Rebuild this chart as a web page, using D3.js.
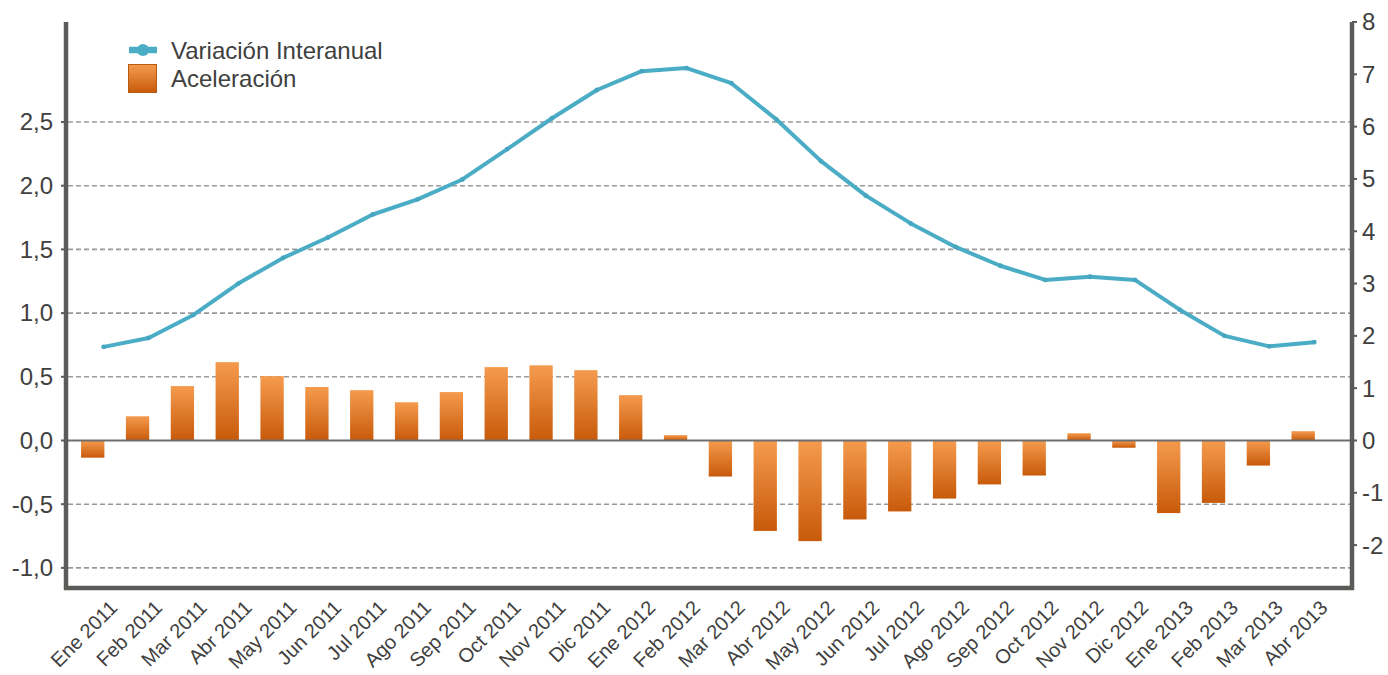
<!DOCTYPE html>
<html>
<head>
<meta charset="utf-8">
<script src="https://cdn.jsdelivr.net/npm/d3@7"></script>
<style>
  html, body { margin: 0; padding: 0; background: #ffffff; }
  svg { display: block; }
  text { font-family: "Liberation Sans", Arial, sans-serif; fill: #404040; }
</style>
</head>
<body>
<svg id="chart" width="1388" height="675"></svg>
<script>
const categories = ["Ene 2011","Feb 2011","Mar 2011","Abr 2011","May 2011","Jun 2011","Jul 2011","Ago 2011","Sep 2011","Oct 2011","Nov 2011","Dic 2011",
  "Ene 2012","Feb 2012","Mar 2012","Abr 2012","May 2012","Jun 2012","Jul 2012","Ago 2012","Sep 2012","Oct 2012","Nov 2012","Dic 2012",
  "Ene 2013","Feb 2013","Mar 2013","Abr 2013"];
const aceleracion = [-0.135, 0.19, 0.427, 0.615, 0.505, 0.42, 0.395, 0.30, 0.38, 0.576, 0.59, 0.552,
  0.356, 0.042, -0.283, -0.71, -0.79, -0.62, -0.557, -0.456, -0.345, -0.275, 0.057, -0.057,
  -0.57, -0.49, -0.197, 0.073];
const variacion = [1.79, 1.96, 2.40, 3.00, 3.49, 3.88, 4.32, 4.61, 4.99, 5.57, 6.16, 6.70,
  7.06, 7.12, 6.83, 6.14, 5.34, 4.68, 4.15, 3.70, 3.34, 3.07, 3.13, 3.07,
  2.50, 2.00, 1.80, 1.88];
const leftTicks = [-1.0, -0.5, 0.0, 0.5, 1.0, 1.5, 2.0, 2.5];
const rightTicks = [-2, -1, 0, 1, 2, 3, 4, 5, 6, 7, 8];
const seriesNames = ["Variación Interanual", "Aceleración"];

const svg = d3.select("#chart");
const axisColor = "#5b5b59";
const lineColor = "#4bacc6";

const xLeft = 66, xRight = 1352, yTop = 22, yBottom = 588;

const x = d3.scaleBand().domain(categories).range([70.1, 1325.4]).padding(0);
const step = x.step();
const yL = d3.scaleLinear().domain([-1.158, 3.285]).range([yBottom, yTop]);
const yR = d3.scaleLinear().domain([-2.82, 8]).range([yBottom, yTop]);

// gradient
const defs = svg.append("defs");
const grad = defs.append("linearGradient").attr("id", "barGrad")
  .attr("x1", 0).attr("y1", 0).attr("x2", 0).attr("y2", 1);
grad.append("stop").attr("offset", "0%").attr("stop-color", "#f59b4e");
grad.append("stop").attr("offset", "100%").attr("stop-color", "#c85a0a");

// gridlines (dashed)
svg.append("g").selectAll("line").data(leftTicks.filter(d => d !== 0)).join("line")
  .attr("x1", xLeft + 2).attr("x2", xRight - 2)
  .attr("y1", d => yL(d)).attr("y2", d => yL(d))
  .attr("stroke", "#9a9a9a").attr("stroke-width", 1.6).attr("stroke-dasharray", "5,3");

// bars
svg.append("g").selectAll("rect").data(categories).join("rect")
  .attr("x", d => x(d) + step * 0.245)
  .attr("width", step * 0.52)
  .attr("y", (d, i) => Math.min(yL(aceleracion[i]), yL(0)))
  .attr("height", (d, i) => Math.abs(yL(aceleracion[i]) - yL(0)))
  .attr("fill", "url(#barGrad)");

// zero line
svg.append("line").attr("x1", xLeft).attr("x2", xRight)
  .attr("y1", yL(0)).attr("y2", yL(0))
  .attr("stroke", "#6e6e6e").attr("stroke-width", 2);

// line series
const lx = (d, i) => x(categories[i]) + step * 0.75;
const line = d3.line().x((d, i) => lx(d, i)).y(d => yR(d));
svg.append("path").datum(variacion)
  .attr("d", line).attr("fill", "none")
  .attr("stroke", lineColor).attr("stroke-width", 4)
  .attr("stroke-linejoin", "round").attr("stroke-linecap", "round");
svg.append("g").selectAll("circle").data(variacion).join("circle")
  .attr("cx", (d, i) => lx(d, i)).attr("cy", d => yR(d)).attr("r", 2.4)
  .attr("fill", "#46a6c0");

// axes lines
svg.append("line").attr("x1", xLeft).attr("x2", xLeft).attr("y1", yTop).attr("y2", yBottom + 2)
  .attr("stroke", axisColor).attr("stroke-width", 4.5);
svg.append("line").attr("x1", xRight).attr("x2", xRight).attr("y1", yTop).attr("y2", yBottom + 2)
  .attr("stroke", axisColor).attr("stroke-width", 4.5);
svg.append("line").attr("x1", xLeft - 2).attr("x2", xRight + 2).attr("y1", yBottom).attr("y2", yBottom)
  .attr("stroke", axisColor).attr("stroke-width", 4.5);

// left axis ticks & labels
const fmt = d => d3.format(".1f")(d).replace(".", ",").replace("−", "-");
const gL = svg.append("g");
gL.selectAll("line").data(leftTicks).join("line")
  .attr("x1", xLeft - 5).attr("x2", xLeft).attr("y1", d => yL(d)).attr("y2", d => yL(d))
  .attr("stroke", axisColor).attr("stroke-width", 2);
gL.selectAll("text").data(leftTicks).join("text")
  .attr("x", 53).attr("y", d => yL(d)).attr("dy", "0.35em")
  .attr("text-anchor", "end").attr("font-size", 24)
  .text(fmt);

// right axis ticks & labels
const gR = svg.append("g");
gR.selectAll("line").data(rightTicks).join("line")
  .attr("x1", xRight).attr("x2", xRight + 5).attr("y1", d => yR(d)).attr("y2", d => yR(d))
  .attr("stroke", axisColor).attr("stroke-width", 2);
gR.selectAll("text").data(rightTicks).join("text")
  .attr("x", 1362).attr("y", d => yR(d)).attr("dy", "0.35em")
  .attr("text-anchor", "start").attr("font-size", 24)
  .text(d => String(d));

// x labels
svg.append("g").selectAll("text").data(categories).join("text")
  .attr("transform", d => `translate(${x(d) + step * 0.5 + 26},${609}) rotate(-45)`)
  .attr("text-anchor", "end").attr("font-size", 20)
  .text(d => d);

// legend
const lg = svg.append("g");
lg.append("line").attr("x1", 129).attr("x2", 157).attr("y1", 50).attr("y2", 50)
  .attr("stroke", lineColor).attr("stroke-width", 6.5);
lg.append("circle").attr("cx", 143).attr("cy", 50).attr("r", 6).attr("fill", lineColor);
lg.append("text").attr("x", 171).attr("y", 58.5).attr("font-size", 24).attr("fill", "#505050").text(seriesNames[0]);
lg.append("rect").attr("x", 128.5).attr("y", 64.5).attr("width", 28).attr("height", 28)
  .attr("fill", "url(#barGrad)").attr("stroke", "#b85a14").attr("stroke-width", 1);
lg.append("text").attr("x", 171).attr("y", 87).attr("font-size", 24).attr("fill", "#505050").text(seriesNames[1]);
</script>
</body>
</html>
